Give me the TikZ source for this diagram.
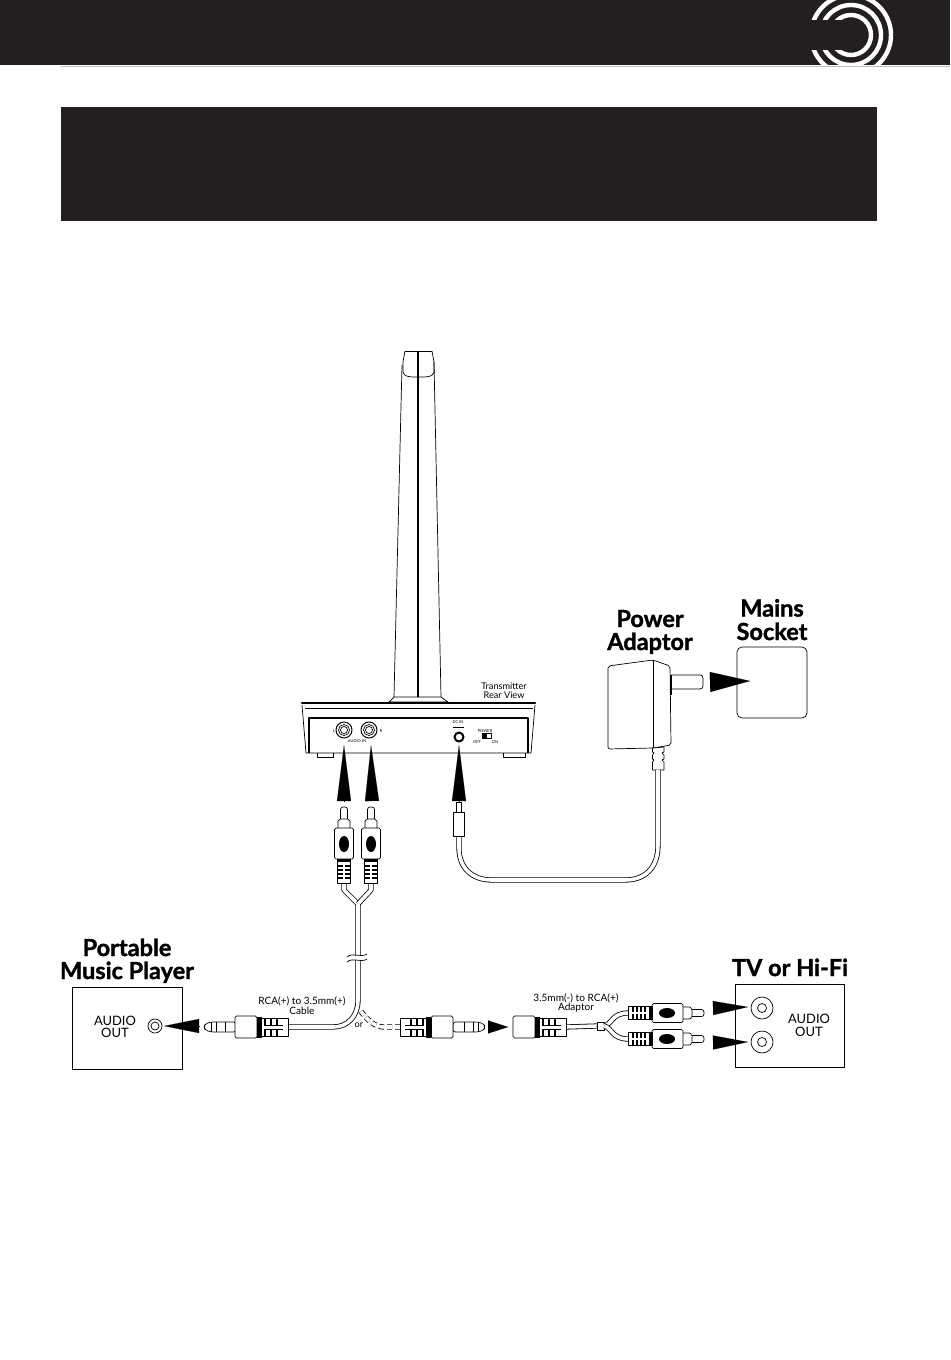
\documentclass[tikz,border=0pt]{standalone}
\usepackage{fontspec}
\setmainfont{Lato}
\newfontfamily\headfont[BoldFeatures={FakeBold=1.4}]{Lato}
\usepackage{xcolor}
\usetikzlibrary{arrows.meta}
\definecolor{barcol}{HTML}{231F20}
\tikzset{
  heading/.style={font=\fontsize{23.6}{23.6}\headfont\bfseries,inner sep=0pt,anchor=base},
  panellab/.style={font=\fontsize{13}{13}\selectfont,inner sep=0pt},
  smalllab/.style={font=\fontsize{9.2}{9.2}\selectfont,inner sep=0pt},
  cablelab/.style={font=\fontsize{10.1}{10.1}\selectfont,inner sep=0pt},
  tinylab/.style={font=\fontsize{4}{4}\selectfont,inner sep=0pt},
  cable/.style={line width=.8bp,double=white,double distance=3.6bp},
  wedge/.style={line width=.1bp,-{Triangle[length=#1,width=14bp]}},
  wedge/.default=35bp,
  pics/rcaplug/.style={code={
    \draw[fill=white,rounded corners=2.5bp] (-14,-3.5) -- (0,-3.5) -- (0,3.5) -- (-14,3.5);
    \draw[fill=white] (-22,-6) -- (-14,-6) -- (-12,-3.5) -- (-12,3.5) -- (-14,6) -- (-22,6) -- cycle;
    \draw[fill=white,rounded corners=1.5bp] (-52,-9.5) rectangle (-21,9.5);
    \fill (-37,0) ellipse (8bp and 5bp);
    \draw[fill=white] (-76,-6.5) rectangle (-52,6.5);
    \fill (-55,-6.5) rectangle (-52,6.5);
    \foreach \r in {-60,-64,-68,-72} {\fill (\r,-6.5) rectangle (\r+1.6,6.5);}
    \fill[white] (-73,-.8) rectangle (-58,.8);
  }},
  pics/jackbody/.style={code={
    \draw[fill=white,rounded corners=1.5bp] (-22,-11) rectangle (0,11);
    \draw[fill=white] (-53,-9) rectangle (-22,9);
    \fill (-27,-10.5) rectangle (-22,10.5);
    \foreach \r in {-31,-37,-43} {\fill (\r,-9) rectangle (\r+2,9);}
    \fill[white] (-48,-2) rectangle (-29,2);
    \draw (-48,-2) -- (-29,-2) (-48,2) -- (-29,2);
  }},
  pics/jackpin/.style={code={
    \draw[fill=white,rounded corners=2.5bp] (-32,-5) -- (-7,-5) -- (-1,-3) -- (0,0) -- (-1,3) -- (-7,5) -- (-32,5) -- cycle;
    \draw (-7,-5) -- (-7,5) (-12,-5) -- (-12,5) (-21,-5) -- (-21,5);
  }},
}
\begin{document}
\begin{tikzpicture}[x=1bp,y=-1bp,line width=.7bp,line join=round]
\useasboundingbox (0,0) rectangle (950,1360);
%% bars
\fill[barcol] (0,0) rectangle (950,65);
\fill[barcol] (61,107) rectangle (877,221);
\draw[black!25,line width=.8bp] (60,66) -- (950,66);
%% logo
\begin{scope}
  \clip (800,0) rectangle (900,65);
  \foreach \ra in {20,30,40} {
    \draw[white,line width=4.4bp] (851,35) circle (\ra bp);
  }
  \fill[barcol] (800,20) rectangle (851,50);
\end{scope}
%% tower
\draw (405,351) -- (432,351);
\draw (405,351) -- (403,362) -- (403,372) .. controls (405,376) .. (412,377) -- (425,377) .. controls (432,376) .. (434,372) -- (434,362) -- (432,351);
\draw (402,365) -- (394,697) (434,362) -- (441,697);
\draw[line width=2.2bp] (418,351) -- (418,697);
\draw[fill=white] (389,702) -- (394,697) -- (441,697) -- (448,702) -- cycle;
%% base
\draw (302,705) -- (306,753) -- (531,753) -- (535,705);
\draw[line width=2.4bp,line cap=round] (302,703) -- (535,703);
\draw (305,708) -- (533,708);
\draw[line width=1.1bp] (309,753) -- (309,718) -- (528,718) -- (528,753);
\draw (317,753) -- (317,757) -- (333,757) -- (333,753) (503,753) -- (503,757) -- (525,757) -- (525,753);
\node[tinylab] (portL) at (334,731) {L};
\node[tinylab] (portR) at (381,731) {R};
\node[tinylab] (audioin) at (357,741) {AUDIO IN};
\node[tinylab] (dcin) at (458,722) {DC IN};
\node[tinylab] (powerlab) at (485,731) {POWER};
\node[tinylab] (offlab) at (477,742) {OFF};
\node[tinylab] (onlab) at (495,742) {ON};
\node[inner sep=0pt,circle,draw,minimum size=16bp,line width=1bp] (jackL) at (344,730) {};
\node[inner sep=0pt,circle,draw,minimum size=16bp,line width=1bp] (jackR) at (369,730) {};
\draw (jackL) circle (5.5bp) (jackL) circle (3.5bp) (jackR) circle (5.5bp) (jackR) circle (3.5bp);
\node[inner sep=0pt,circle,draw,minimum size=9bp,line width=2bp] (jackDC) at (459,737) {};
\draw[line width=.5bp] (453,727.5) -- (464,727.5);
\draw[fill=white,line width=.5bp] (482,733.5) rectangle (491,738.5);
\fill (482,733.5) rectangle (486.5,738.5);
\node[smalllab] (rear1) at (504,686) {Transmitter};
\node[smalllab] (rear2) at (504,695) {Rear View};
%% power adaptor
\node[heading] (powerh) at (650,627) {Power};
\node[heading] (adaptorh) at (650,650) {Adaptor};
\node[heading] (mainsh) at (772,616.5) {Mains};
\node[heading] (socketh) at (772,640) {Socket};
\draw[rounded corners=5bp] (737,647) rectangle (807,718);
\draw[fill=white,rounded corners=3bp] (671,675) -- (703,675) -- (703,689) -- (671,689);
\draw[fill=white,rounded corners=2bp] (608,666) -- (653,660) -- (670,666) -- (671,745) -- (653,748) -- (608,749) -- cycle;
\draw (653,660) -- (653,748);
\draw[line width=1.8bp] (671,675) -- (671,695);
\draw[fill=white] (652.5,748) -- (664,747) -- (664,752) -- (662,753) -- (664,755) -- (664,759) -- (662,760) -- (664,762) -- (664,770) -- (652.5,770) -- (652.5,762) -- (654,760) -- (652.5,759) -- (652.5,755) -- (654,753) -- (652.5,752) -- cycle;
\coordinate (adaptorcab) at (658,770);
\coordinate (dccab) at (459,836);
\draw[cable] (adaptorcab) -- (658,845) .. controls (658,868) and (645,880) .. (625,880) -- (492,880) .. controls (472,880) and (459,868) .. (459,848) -- (dccab);
\draw[fill=white] (456,802) rectangle (461,812);
\draw[fill=white] (453,812) rectangle (464.5,836);
%% rca pair at the transmitter
\coordinate (legL) at (344,883);
\coordinate (legR) at (371,883);
\coordinate (ymerge) at (358,904);
\coordinate (cablebend) at (333,1027);
\coordinate (cableplug) at (288,1027);
\coordinate (altplug) at (400,1027);
\coordinate (altbend) at (360,1010);
\draw[cable,dash pattern=on 5bp off 3bp] (altplug) -- (384,1027) .. controls (375,1027) and (367,1020) .. (altbend);
\draw[cable] (legL) -- (344,890) -- (ymerge);
\draw[cable] (legR) -- (371,890) -- (ymerge);
\draw[cable] (ymerge) -- (358,1000) .. controls (358,1016) and (348,1027) .. (cablebend) -- (cableplug);
\fill[white] (346,955.5) rectangle (370,960);
\draw (347,957) .. controls (352,952) and (362,958) .. (367,954);
\draw (347,962) .. controls (352,957) and (362,963) .. (367,959);
\pic at (344,807) [rotate=90] {rcaplug};
\pic at (371,807) [rotate=90] {rcaplug};
%% arrows
\coordinate (arrL) at (344,801);   \coordinate (arrLtip) at (344,745);
\coordinate (arrR) at (372,801);   \coordinate (arrRtip) at (371,745);
\coordinate (arrDC) at (459,801);  \coordinate (arrDCtip) at (459,745);
\coordinate (mainstail) at (710,682);
\coordinate (mainstip) at (750,681);
\draw[wedge=56bp] (arrL) -- (arrLtip);
\draw[wedge=56bp] (arrR) -- (arrRtip);
\draw[wedge=56bp] (arrDC) -- (arrDCtip);
\draw[line width=.1bp,-{Triangle[length=40bp,width=20bp]}] (mainstail) -- (mainstip);
%% portable player
\node[heading] (playerh1) at (127,956) {Portable};
\node[heading] (playerh2) at (127,979) {Music Player};
\draw (72,987) rectangle (182,1069);
\node[panellab] (playerout1) at (115,1021) {AUDIO};
\node[panellab] (playerout2) at (115,1033) {OUT};
\node[inner sep=0pt,circle,draw,minimum size=14bp] (playersock) at (155,1026) {};
\draw (playersock) circle (4bp);
\coordinate (arrP) at (199,1026);
\coordinate (arrPtip) at (164,1026);
\draw[wedge] (arrP) -- (arrPtip);
\pic at (204,1027) [rotate=180] {jackpin};
\pic at (235,1027) [rotate=180] {jackbody};
\node[cablelab] (cable1) at (302,1001) {RCA(+) to 3.5mm(+)};
\node[cablelab] (cable2) at (302,1011) {Cable};
\node[smalllab] (orlab) at (359,1025) {or};
%% 3.5mm plug and adaptor
\pic at (485,1027) {jackpin};
\pic at (453,1027) {jackbody};
\coordinate (arrM) at (488,1027);
\coordinate (arrMtip) at (508,1027);
\draw[line width=.1bp,-{Triangle[length=20bp,width=13bp]}] (arrM) -- (arrMtip);
\node[draw,fill=white,inner sep=0pt,minimum width=7bp,minimum height=8bp] (adaptorbox) at (600.5,1026) {};
\coordinate (adaptorout) at (566,1027);
\draw[cable] (adaptorout) -- (adaptorbox.west);
\coordinate (plugtop) at (628,1013);
\coordinate (plugbot) at (628,1039);
\draw[cable] (adaptorbox.east) .. controls (612,1024) and (612,1013) .. (plugtop);
\draw[cable] (adaptorbox.east) .. controls (612,1028) and (612,1039) .. (plugbot);
\pic at (513,1027) [rotate=180] {jackbody};
\pic at (704,1013) {rcaplug};
\pic at (704,1039) {rcaplug};
\node[cablelab] (adapt1) at (576,998) {3.5mm(-) to RCA(+)};
\node[cablelab] (adapt2) at (576,1008) {Adaptor};
%% tv or hi-fi
\node[heading] (tvh) at (790,976) {TV or Hi-Fi};
\draw (735,984) rectangle (844,1067);
\node[panellab] (tvout1) at (809,1019) {AUDIO};
\node[panellab] (tvout2) at (809,1032) {OUT};
\node[inner sep=0pt,circle,draw,minimum size=22bp] (socktop) at (762,1008) {};
\node[inner sep=0pt,circle,draw,minimum size=22bp] (sockbot) at (762,1042) {};
\draw (socktop) circle (4.5bp) (sockbot) circle (4.5bp);
\coordinate (arrT) at (713,1008);
\coordinate (arrTtip) at (748,1007);
\coordinate (arrB) at (713,1042.5);
\coordinate (arrBtip) at (748,1042);
\draw[wedge] (arrT) -- (arrTtip);
\draw[wedge] (arrB) -- (arrBtip);
\end{tikzpicture}
\end{document}
